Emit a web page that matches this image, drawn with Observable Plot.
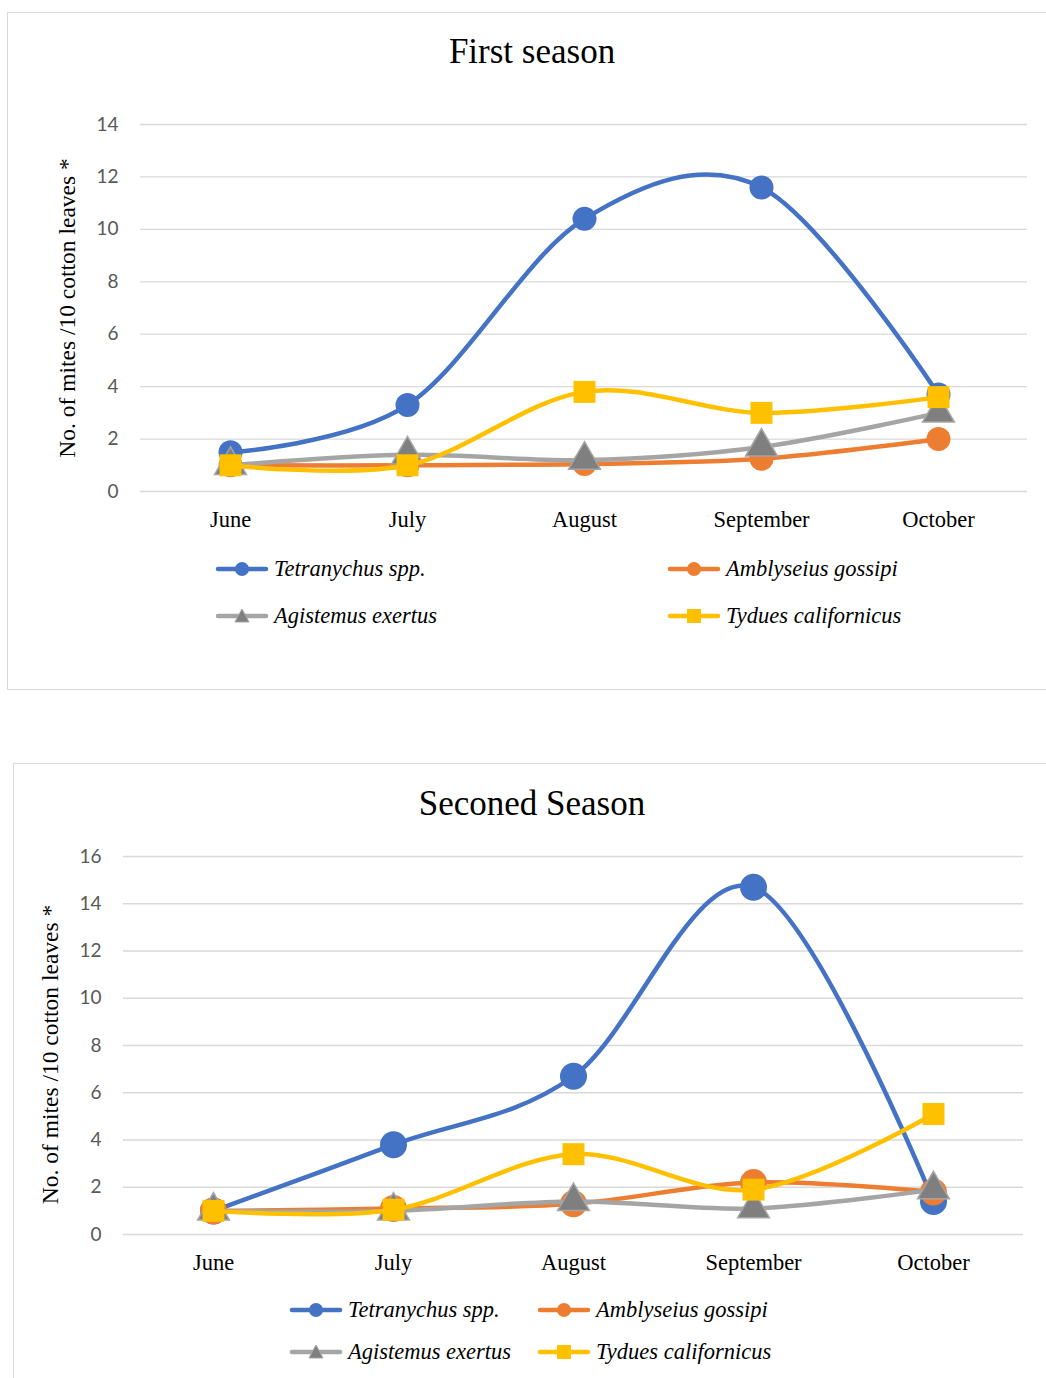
<!DOCTYPE html>
<html>
<head>
<meta charset="utf-8">
<script src="https://cdn.jsdelivr.net/npm/d3@7"></script>
<script src="https://cdn.jsdelivr.net/npm/@observablehq/plot@0.6"></script>
<style>
  body { margin: 0; background: #fff; }
  #page { position: relative; width: 1046px; height: 1378px; overflow: hidden; background: #fff; }
  .box { position: absolute; border: 1px solid #d9d9d9; box-sizing: border-box; }
  .title { position: absolute; left: 0; width: 1064px; text-align: center;
           font-family: "Liberation Serif", "Times New Roman", serif; font-size: 35px;
           line-height: 35px; color: #000; white-space: nowrap; }
  .chart { position: absolute; left: 0; }
  .leg { position: absolute; display: flex; align-items: center; height: 24px;
         font-family: "Liberation Serif", "Times New Roman", serif; font-style: italic;
         font-size: 22.5px; color: #000; white-space: nowrap; }
  .leg svg { margin-right: 6px; overflow: visible; }
</style>
</head>
<body>
<div id="page"></div>
<script>
// Sampling months (x categories)
const months = ["June", "July", "August", "September", "October"];

// Mite species (series) and their colours
const species = ["Tetranychus spp.", "Amblyseius gossipi", "Agistemus exertus", "Tydues californicus"];
const speciesColors = ["#4472C4", "#ED7D31", "#A5A5A5", "#FFC000"];

// First season: mites / 10 cotton leaves
const s1Tetranychus = [1.5, 3.3, 10.4, 11.6, 3.7];
const s1Amblyseius  = [1.0, 1.0, 1.05, 1.25, 2.0];
const s1Agistemus   = [1.0, 1.4, 1.2, 1.7, 3.0];
const s1Tydues      = [1.0, 1.0, 3.8, 3.0, 3.6];
const s1Ticks = [0, 2, 4, 6, 8, 10, 12, 14];

// Second season: mites / 10 cotton leaves
const s2Tetranychus = [1.0, 3.8, 6.7, 14.7, 1.4];
const s2Amblyseius  = [1.0, 1.1, 1.3, 2.2, 1.8];
const s2Agistemus   = [1.0, 1.0, 1.4, 1.1, 1.9];
const s2Tydues      = [1.0, 1.05, 3.4, 1.9, 5.1];
const s2Ticks = [0, 2, 4, 6, 8, 10, 12, 14, 16];

const yLabel = "No. of mites /10 cotton leaves *";
const serif = "'Liberation Serif', 'Times New Roman', serif";

// marker look per species
function markerStyle(i, circleR) {
  if (i === 2) return {symbol: "triangle", r: 11.8, fill: "#7F7F7F", stroke: "#A5A5A5", strokeWidth: 1.5};
  if (i === 3) return {symbol: "square", r: 12.4, fill: speciesColors[3], stroke: null};
  return {symbol: "circle", r: circleR, fill: speciesColors[i], stroke: null};
}

function makeChart(cfg) {
  const page = document.getElementById("page");

  const box = document.createElement("div");
  box.className = "box";
  Object.assign(box.style, {left: cfg.box[0] + "px", top: cfg.box[1] + "px",
                            width: cfg.box[2] + "px", height: cfg.box[3] + "px"});
  page.appendChild(box);

  const title = document.createElement("div");
  title.className = "title";
  title.style.top = cfg.titleTop + "px";
  title.textContent = cfg.title;
  page.appendChild(title);

  const marks = [
    Plot.ruleY(cfg.ticks, {stroke: "#d9d9d9", strokeWidth: 1.3}),
    Plot.axisY({ticks: cfg.ticks, tickSize: 0, tickPadding: 22, label: null}),
    Plot.text(months, {x: d => d, text: d => d, frameAnchor: "bottom", dy: 28,
                       lineAnchor: "middle", fontFamily: serif, fontSize: 22.5, fill: "#000"}),
    Plot.text([yLabel], {text: d => d, frameAnchor: "left", textAnchor: "middle", lineAnchor: "middle",
                         rotate: -90, dx: cfg.labelDx, dy: cfg.labelDy,
                         fontFamily: serif, fontSize: 23.5, fill: "#000"})
  ];
  cfg.series.forEach((vals, i) => {
    const rows = months.map((m, j) => ({month: m, value: vals[j]}));
    marks.push(Plot.line(rows, {x: "month", y: "value", stroke: speciesColors[i], strokeWidth: 4.5,
                                curve: "cardinal", strokeLinecap: "round", strokeLinejoin: "round"}));
    marks.push(Plot.dot(rows, {x: "month", y: "value", ...markerStyle(i, cfg.circleR)}));
  });

  const svg = Plot.plot({
    width: 1046,
    height: cfg.height,
    marginTop: cfg.marginTop,
    marginBottom: cfg.marginBottom,
    marginLeft: cfg.marginLeft,
    marginRight: cfg.marginRight,
    x: {type: "point", domain: months, padding: 0.5, axis: null},
    y: {domain: [cfg.ticks[0], cfg.ticks[cfg.ticks.length - 1]]},
    style: {fontFamily: "Lato, 'Open Sans', sans-serif", fontSize: "19px", color: "#595959",
            background: "transparent", overflow: "visible"},
    marks
  });
  svg.classList.add("chart");
  svg.style.top = cfg.svgTop + "px";
  page.appendChild(svg);

  // legend: two rows of two entries
  species.forEach((name, i) => {
    const [lx, ly] = cfg.legendPos[i];
    const item = document.createElement("div");
    item.className = "leg";
    item.style.left = lx + "px";
    item.style.top = (ly - 12) + "px";
    let marker;
    if (i === 2) marker = `<path d="M26,5 L33,18 L19,18 Z" fill="#7F7F7F" stroke="#A5A5A5" stroke-width="1"/>`;
    else if (i === 3) marker = `<rect x="19" y="5" width="14" height="14" fill="${speciesColors[3]}"/>`;
    else marker = `<circle cx="26" cy="12" r="7" fill="${speciesColors[i]}"/>`;
    item.innerHTML = `<svg width="52" height="24"><line x1="2" y1="12" x2="50" y2="12" stroke="${speciesColors[i]}" stroke-width="4.5" stroke-linecap="round"/>${marker}</svg><span>${name}</span>`;
    page.appendChild(item);
  });
}

makeChart({
  title: "First season",
  titleTop: 34,
  box: [7, 12, 1046, 678],
  svgTop: 90, height: 470, marginTop: 34, marginBottom: 69, marginLeft: 140, marginRight: 19,
  ticks: s1Ticks,
  series: [s1Tetranychus, s1Amblyseius, s1Agistemus, s1Tydues],
  circleR: 12,
  labelDx: -73, labelDy: 0,
  legendPos: [[216, 569], [668, 569], [216, 616], [668, 616]]
});

makeChart({
  title: "Seconed Season",
  titleTop: 786,
  box: [13, 763, 1046, 700],
  svgTop: 820, height: 470, marginTop: 36, marginBottom: 56, marginLeft: 123, marginRight: 23,
  ticks: s2Ticks,
  series: [s2Tetranychus, s2Amblyseius, s2Agistemus, s2Tydues],
  circleR: 13.5,
  labelDx: -73, labelDy: 9,
  legendPos: [[290, 1310], [538, 1310], [290, 1352], [538, 1352]]
});
</script>
</body>
</html>
